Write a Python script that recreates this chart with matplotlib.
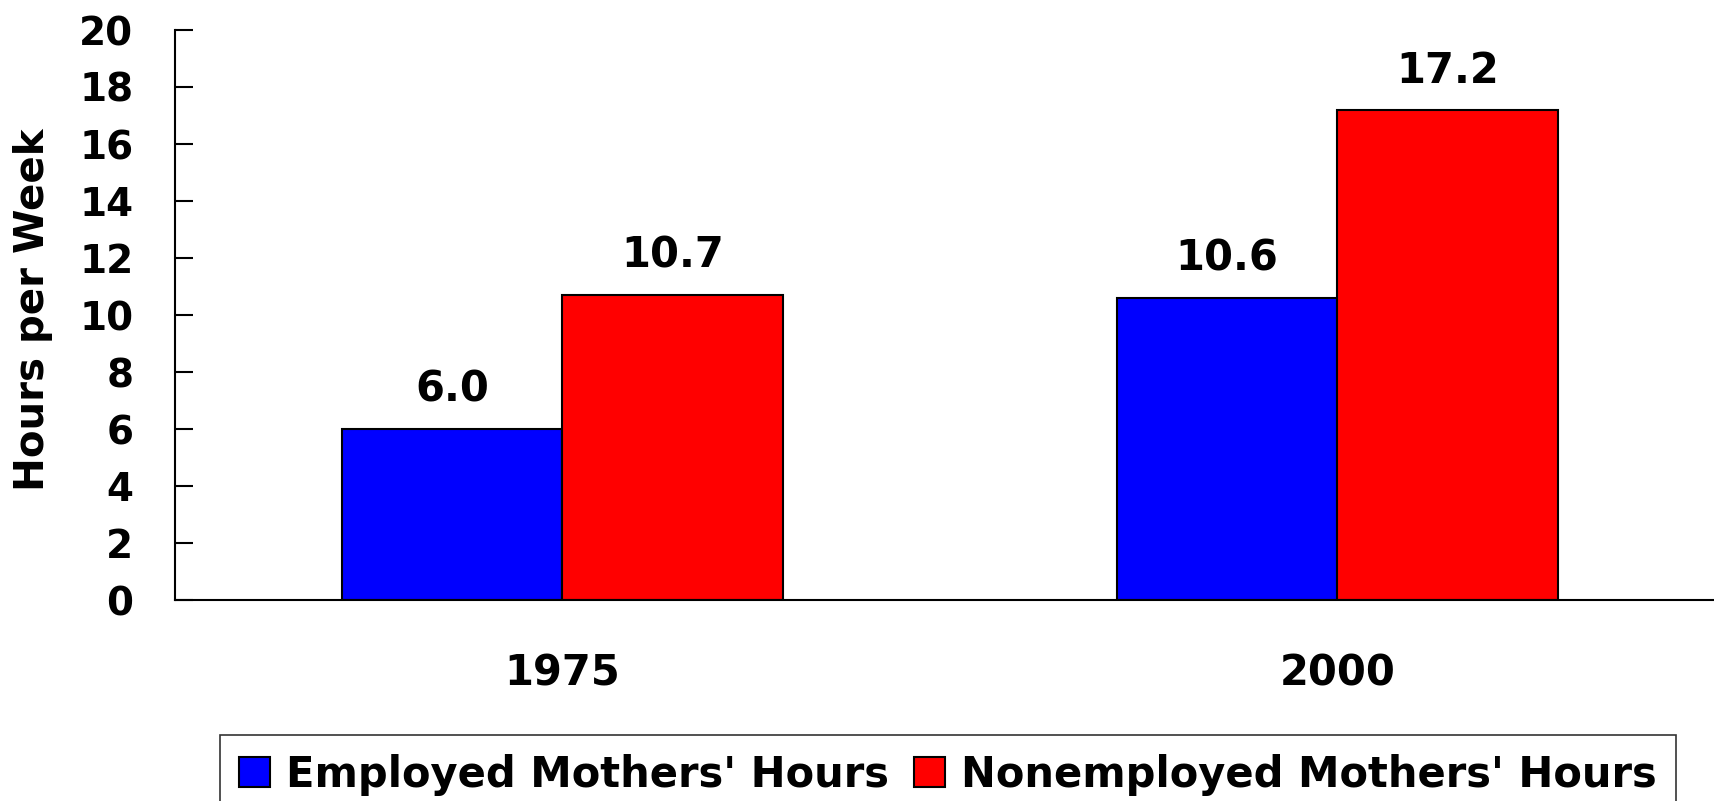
import matplotlib
matplotlib.use("Agg")
import matplotlib.pyplot as plt
import numpy as np

# data
years = ["1975", "2000"]
employed = [6.0, 10.6]
nonemployed = [10.7, 17.2]
series_names = ["Employed Mothers' Hours", "Nonemployed Mothers' Hours"]
series_colors = ["#0000ff", "#ff0000"]

plt.rcParams['font.family'] = 'DejaVu Sans'
plt.rcParams['font.weight'] = 'bold'

fig = plt.figure(figsize=(17.15, 8.01), dpi=100)
ax = fig.add_axes([175 / 1715, 1 - 600 / 801, 1550 / 1715, 570 / 801])

x = np.arange(len(years))
w = 0.285
bars1 = ax.bar(x - w / 2, employed, w, color=series_colors[0], edgecolor='black', linewidth=1.5,
               label=series_names[0])
bars2 = ax.bar(x + w / 2, nonemployed, w, color=series_colors[1], edgecolor='black', linewidth=1.5,
               label=series_names[1])

for bars, vals in [(bars1, employed), (bars2, nonemployed)]:
    for b, v in zip(bars, vals):
        ax.annotate(f"{v:.1f}", (b.get_x() + b.get_width() / 2, v), xytext=(0, 13),
                    textcoords='offset points', ha='center', va='bottom',
                    fontsize=30, fontweight='bold')

ax.set_xlim(-0.5, 1.5)
ax.set_ylim(0, 20)
ax.set_yticks(range(0, 21, 2))
ax.set_xticks(x)
ax.set_xticklabels(years)
ax.tick_params(axis='y', direction='in', length=13, width=1.5, pad=30, labelsize=28)
ax.tick_params(axis='x', length=0, pad=38, labelsize=30)
for lab in ax.get_xticklabels() + ax.get_yticklabels():
    lab.set_fontweight('bold')
ax.spines['top'].set_visible(False)
ax.spines['right'].set_visible(False)
ax.spines['left'].set_linewidth(1.5)
ax.spines['bottom'].set_linewidth(1.5)
ax.set_ylabel("Hours per Week", fontsize=29, fontweight='bold')
ax.yaxis.set_label_coords((53 - 175) / 1550, (600 - 310) / 570)

leg = fig.legend(loc='upper center', bbox_to_anchor=(948 / 1715, 1 - 735 / 801), ncol=2,
                 fontsize=30, frameon=True, fancybox=False, handlelength=0.75, handleheight=0.75,
                 handletextpad=0.38, columnspacing=0.6, borderpad=0.45, borderaxespad=0)
leg.get_frame().set_edgecolor('black')
leg.get_frame().set_linewidth(1.2)
for t in leg.get_texts():
    t.set_fontweight('bold')

fig.savefig("out.png", dpi=100)
